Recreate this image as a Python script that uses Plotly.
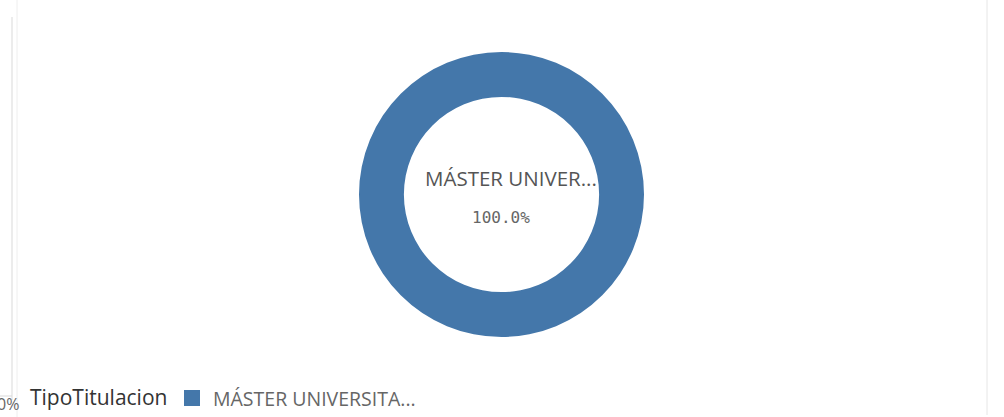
import plotly.graph_objects as go

categories = ["MÁSTER UNIVERSITARIO"]
values = [100]
center_label = ["MÁSTER UNIVER..."]
legend_label = ["MÁSTER UNIVERSITA..."]
legend_title = "TipoTitulacion"
color = "#4477aa"

W, H = 1004, 417

def px(x):
    return x / W

def py(y):
    return 1 - y / H

fig = go.Figure()
fig.add_trace(go.Pie(
    labels=categories, values=values, hole=0.685, sort=False,
    marker=dict(colors=[color], line=dict(width=0)),
    textinfo="none", hoverinfo="label+percent", showlegend=False,
    domain=dict(x=[px(359), px(644)], y=[py(337), py(52)]),
))

pct = values[0] / sum(values) * 100
annotations = [
    dict(x=px(511), y=py(178), text=center_label[0], showarrow=False,
         font=dict(family="Open Sans", size=20.5, color="#555555"), xanchor="center", yanchor="middle"),
    dict(x=px(501), y=py(217), text=f"{pct:.1f}%", showarrow=False,
         font=dict(family="DejaVu Sans Mono", size=16, color="#666666"), xanchor="center", yanchor="middle"),
    dict(x=px(28), y=py(397), text=legend_title, showarrow=False,
         font=dict(family="Open Sans", size=21, color="#333333"), xanchor="left", yanchor="middle"),
    dict(x=px(211), y=py(398), text=legend_label[0], showarrow=False,
         font=dict(family="Open Sans", size=19.5, color="#666666"), xanchor="left", yanchor="middle"),
    dict(x=px(-5), y=py(404), text="0%", showarrow=False,
         font=dict(family="Open Sans", size=16, color="#666666"), xanchor="left", yanchor="middle"),
]

shapes = [
    dict(type="rect", xref="paper", yref="paper", x0=px(184), x1=px(200), y0=py(406), y1=py(390),
         fillcolor=color, line=dict(width=0)),
    dict(type="line", xref="paper", yref="paper", x0=px(12), x1=px(12), y0=py(17), y1=py(400),
         line=dict(color="#d9d9d9", width=1)),
    dict(type="line", xref="paper", yref="paper", x0=px(0), x1=px(12), y0=py(396), y1=py(396),
         line=dict(color="#d9d9d9", width=1)),
    dict(type="line", xref="paper", yref="paper", x0=px(17), x1=px(17), y0=py(0), y1=py(417),
         line=dict(color="#eeeeee", width=1)),
    dict(type="line", xref="paper", yref="paper", x0=px(987), x1=px(987), y0=py(0), y1=py(415),
         line=dict(color="#e6e6e6", width=1)),
]

fig.update_layout(
    width=W, height=H, margin=dict(l=0, r=0, t=0, b=0),
    paper_bgcolor="white", plot_bgcolor="white",
    annotations=annotations, shapes=shapes,
)
fig.write_html("out.html")
